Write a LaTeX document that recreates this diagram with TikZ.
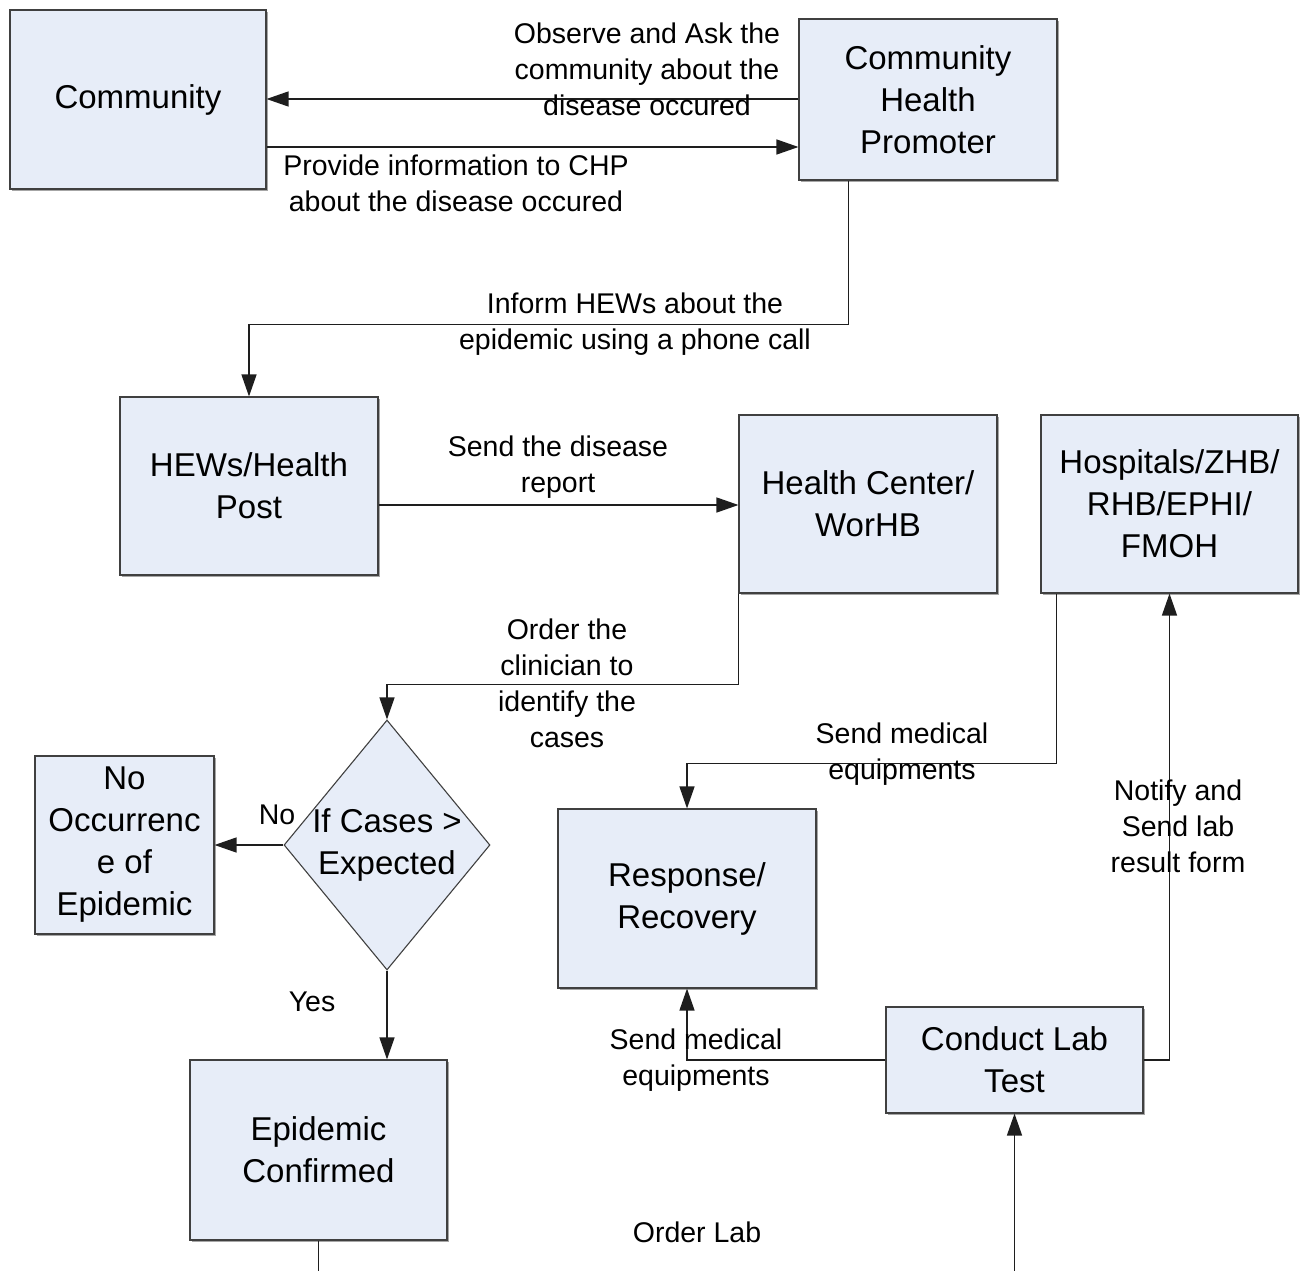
\documentclass[tikz,border=0pt]{standalone}
\usepackage{fontspec}
\setmainfont{Liberation Sans}
\usetikzlibrary{shapes.geometric,arrows.meta,calc,shadows}

\definecolor{boxfill}{RGB}{231,237,248}
\definecolor{boxline}{RGB}{64,64,64}
\definecolor{wire}{RGB}{30,30,30}

\tikzset{
  box/.style={draw=boxline, line width=1.1pt, fill=boxfill, inner sep=0pt,
    align=center, font=\fontsize{33}{42}\selectfont,
    drop shadow={shadow xshift=1.5pt, shadow yshift=-2pt, fill=gray!70, opacity=1}},
  decision/.style={diamond, draw=boxline, line width=1.1pt, fill=boxfill, inner sep=0pt,
    minimum width=206pt, minimum height=250pt},
  boxtext/.style={align=center, inner sep=0pt, font=\fontsize{33}{42}\selectfont},
  note/.style={align=center, inner sep=0pt, font=\fontsize{28.5}{36}\selectfont},
  conn/.style={draw=wire, line width=1.4pt, -{Triangle[length=22pt, width=15pt]}},
  plain/.style={draw=wire, line width=1.4pt},
}

\begin{document}
\begin{tikzpicture}[x=1pt, y=-1pt]
\useasboundingbox (0,0) rectangle (1304,1271);

% boxes
\node[box, minimum width=256pt, minimum height=179pt] (comm) at (138,99.5) {Community};
\node[box, minimum width=258pt, minimum height=161pt] (chp) at (928,99.5) {Community\\Health\\Promoter};
\node[box, minimum width=258pt, minimum height=178pt] (hews) at (249,486) {HEWs/Health\\Post};
\node[box, minimum width=258pt, minimum height=178pt] (hc) at (868,504) {Health Center/\\WorHB};
\node[box, minimum width=257pt, minimum height=178pt] (hosp) at (1169.5,504) {Hospitals/ZHB/\\RHB/EPHI/\\FMOH};
\node[decision] (dia) at (387,845) {};
\node[boxtext] (diatext) at (387,845) {If Cases >\\Expected};
\node[box, minimum width=179pt, minimum height=178pt] (noocc) at (124.5,845) {No\\Occurrenc\\e of\\Epidemic};
\node[box, minimum width=258pt, minimum height=179pt] (resp) at (687,898.5) {Response/\\Recovery};
\node[box, minimum width=257pt, minimum height=106pt] (lab) at (1014.5,1060) {Conduct Lab\\Test};
\node[box, minimum width=257pt, minimum height=180pt] (epi) at (318.5,1150) {Epidemic\\Confirmed};

% free ends at the lower edge
\coordinate (epiout) at (318.5,1271);
\coordinate (labin) at (1014.5,1271);

% connectors
\draw[conn] (chp.west |- 0,99) -- (comm.east |- 0,99);
\draw[conn] (comm.east |- 0,147) -- (chp.west |- 0,147);
\draw[conn] ($(chp.south west)+(50,0)$) -- ++(0,144) -| (hews.north);
\draw[conn] (hews.east |- 0,505) -- (hc.west |- 0,505);
\draw[conn] (hc.south west) -- ++(0,91) -| (dia.north);
\draw[conn] (dia.west) -- (noocc.east);
\draw[conn] (dia.south) -- (dia.south |- epi.north);
\draw[conn] ($(hosp.south west)+(16,0)$) -- ++(0,170) -| (resp.north);
\draw[conn] (lab.west) -| (resp.south);
\draw[conn] (lab.east) -| (hosp.south);
\draw[plain] (epi.south) -- (epiout);
\draw[conn] (labin) -- (lab.south);

% connector labels
\node[note] (l1) at (647,69) {Observe and Ask the\\community about the\\disease occured};
\node[note] (l2) at (456,183) {Provide information to CHP\\about the disease occured};
\node[note] (l3) at (635,324) {Inform HEWs about the\\epidemic using a phone call};
\node[note] (l4) at (558,467) {Send the disease\\report};
\node[note] (l5) at (567,683) {Order the\\clinician to\\identify the\\cases};
\node[note] (l6) at (277,815) {No};
\node[note] (l7) at (312,1002) {Yes};
\node[note] (l8) at (902,754) {Send medical\\equipments};
\node[note] (l9) at (696,1060) {Send medical\\equipments};
\node[note] (l10) at (1178,826) {Notify and\\Send lab\\result form};
\node[note] (l11) at (697,1232) {Order Lab};
\end{tikzpicture}
\end{document}
